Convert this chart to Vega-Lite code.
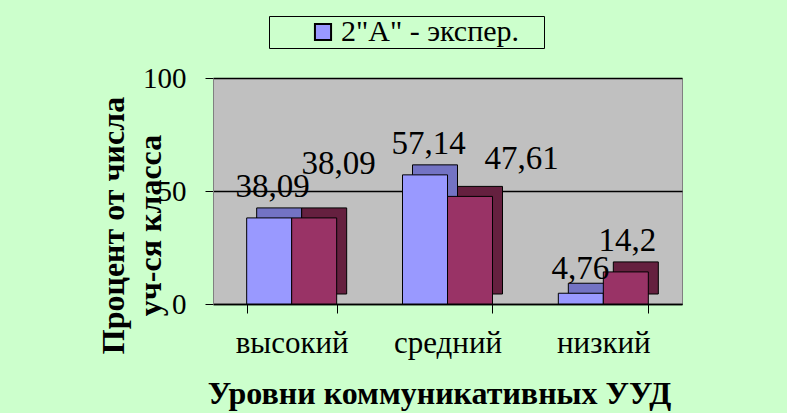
{
  "$schema": "https://vega.github.io/schema/vega-lite/v6.json",
  "width": 469,
  "height": 226,
  "autosize": {"type": "none"},
  "padding": {"left": 213, "top": 78, "right": 105, "bottom": 109},
  "background": "#CCFFCC",
  "config": {
    "view": {"fill": "#C0C0C0", "stroke": "#808080"},
    "font": "Liberation Serif",
    "legend": {"labelFont": "Liberation Serif", "titleFont": "Liberation Serif"}
  },
  "data": {
    "values": [
      {"level": "высокий", "series": "2\"А\" - экспер.", "value": 38.09, "label": "38,09"},
      {"level": "высокий", "series": "контр.", "value": 38.09, "label": "38,09"},
      {"level": "средний", "series": "2\"А\" - экспер.", "value": 57.14, "label": "57,14"},
      {"level": "средний", "series": "контр.", "value": 47.61, "label": "47,61"},
      {"level": "низкий", "series": "2\"А\" - экспер.", "value": 4.76, "label": "4,76"},
      {"level": "низкий", "series": "контр.", "value": 14.2, "label": "14,2"}
    ]
  },
  "encoding": {
    "x": {
      "field": "level",
      "type": "nominal",
      "sort": ["высокий", "средний", "низкий"],
      "scale": {"paddingInner": 0.424, "paddingOuter": 0.217},
      "axis": {
        "title": "Уровни коммуникативных УУД",
        "titleFont": "Liberation Serif",
        "titleFontSize": 32,
        "titleFontWeight": "bold",
        "titleColor": "black",
        "titleX": 226,
        "titleY": 99,
        "titleAlign": "center",
        "titleBaseline": "alphabetic",
        "labelAngle": 0,
        "labelFont": "Liberation Serif",
        "labelFontSize": 31,
        "labelColor": "black",
        "labelBaseline": "alphabetic",
        "labelPadding": 39,
        "tickBand": "extent",
        "tickSize": 9,
        "tickColor": "black",
        "domainColor": "black",
        "domainWidth": 1.5
      }
    },
    "y": {
      "field": "value",
      "type": "quantitative",
      "scale": {"domain": [0, 100]},
      "axis": {
        "values": [0, 50, 100],
        "title": ["Процент от числа", "уч-ся класса"],
        "titleFont": "Liberation Serif",
        "titleFontSize": 32,
        "titleFontWeight": "bold",
        "titleColor": "black",
        "titleX": -100,
        "titleY": 147,
        "titleLineHeight": 37,
        "titleAnchor": "middle",
        "titleBaseline": "middle",
        "labelFont": "Liberation Serif",
        "labelFontSize": 29,
        "labelColor": "black",
        "labelPadding": 19,
        "tickSize": 8,
        "tickColor": "black",
        "domainColor": "#808080",
        "grid": true,
        "gridColor": "black",
        "gridWidth": 1.5
      }
    }
  },
  "layer": [
    {
      "transform": [{"filter": "datum.series === '2\"А\" - экспер.'"}],
      "mark": {"type": "bar", "width": 45, "xOffset": -12.5, "yOffset": -10, "fill": "#7373C4", "stroke": "black", "strokeWidth": 1}
    },
    {
      "transform": [{"filter": "datum.series === 'контр.'"}],
      "mark": {"type": "bar", "width": 45, "xOffset": 32.5, "yOffset": -10, "fill": "#65203F", "stroke": "black", "strokeWidth": 1}
    },
    {
      "transform": [{"filter": "datum.series === '2\"А\" - экспер.'"}],
      "mark": {"type": "bar", "width": 45, "xOffset": -22.5, "stroke": "black", "strokeWidth": 1},
      "encoding": {
        "color": {
          "field": "series",
          "type": "nominal",
          "scale": {"domain": ["2\"А\" - экспер.", "контр."], "range": ["#9999FF", "#993366"]},
          "legend": {
            "title": " ",
            "titleOrient": "right",
            "titlePadding": 24,
            "titleFontSize": 2,
            "values": ["2\"А\" - экспер."],
            "orient": "none",
            "legendX": 56,
            "legendY": -62,
            "strokeColor": "black",
            "fillColor": "#CCFFCC",
            "padding": 1,
            "symbolOffset": 38,
            "symbolType": "square",
            "symbolSize": 260,
            "symbolStrokeColor": "black",
            "symbolStrokeWidth": 2,
            "labelFont": "Liberation Serif",
            "labelFontSize": 30,
            "labelLimit": 400,
            "labelColor": "black",
            "labelOffset": 3
          }
        }
      }
    },
    {
      "transform": [{"filter": "datum.series === 'контр.'"}],
      "mark": {"type": "bar", "width": 45, "xOffset": 22.5, "stroke": "black", "strokeWidth": 1},
      "encoding": {
        "color": {"field": "series", "type": "nominal"}
      }
    },
    {
      "transform": [{"filter": "datum.series === '2\"А\" - экспер.' && datum.level !== 'низкий'"}],
      "mark": {"type": "text", "font": "Liberation Serif", "fontSize": 33, "color": "black", "dy": -31, "dx": -19},
      "encoding": {"text": {"field": "label"}}
    },
    {
      "transform": [{"filter": "datum.series === '2\"А\" - экспер.' && datum.level === 'низкий'"}],
      "mark": {"type": "text", "font": "Liberation Serif", "fontSize": 33, "color": "black", "dy": -24, "dx": -23},
      "encoding": {"text": {"field": "label"}}
    },
    {
      "transform": [{"filter": "datum.series === 'контр.' && datum.level === 'высокий'"}],
      "mark": {"type": "text", "font": "Liberation Serif", "fontSize": 33, "color": "black", "dy": -54, "dx": 47},
      "encoding": {"text": {"field": "label"}}
    },
    {
      "transform": [{"filter": "datum.series === 'контр.' && datum.level === 'средний'"}],
      "mark": {"type": "text", "font": "Liberation Serif", "fontSize": 33, "color": "black", "dy": -37, "dx": 74},
      "encoding": {"text": {"field": "label"}}
    },
    {
      "transform": [{"filter": "datum.series === 'контр.' && datum.level === 'низкий'"}],
      "mark": {"type": "text", "font": "Liberation Serif", "fontSize": 33, "color": "black", "dy": -31, "dx": 24},
      "encoding": {"text": {"field": "label"}}
    }
  ]
}
